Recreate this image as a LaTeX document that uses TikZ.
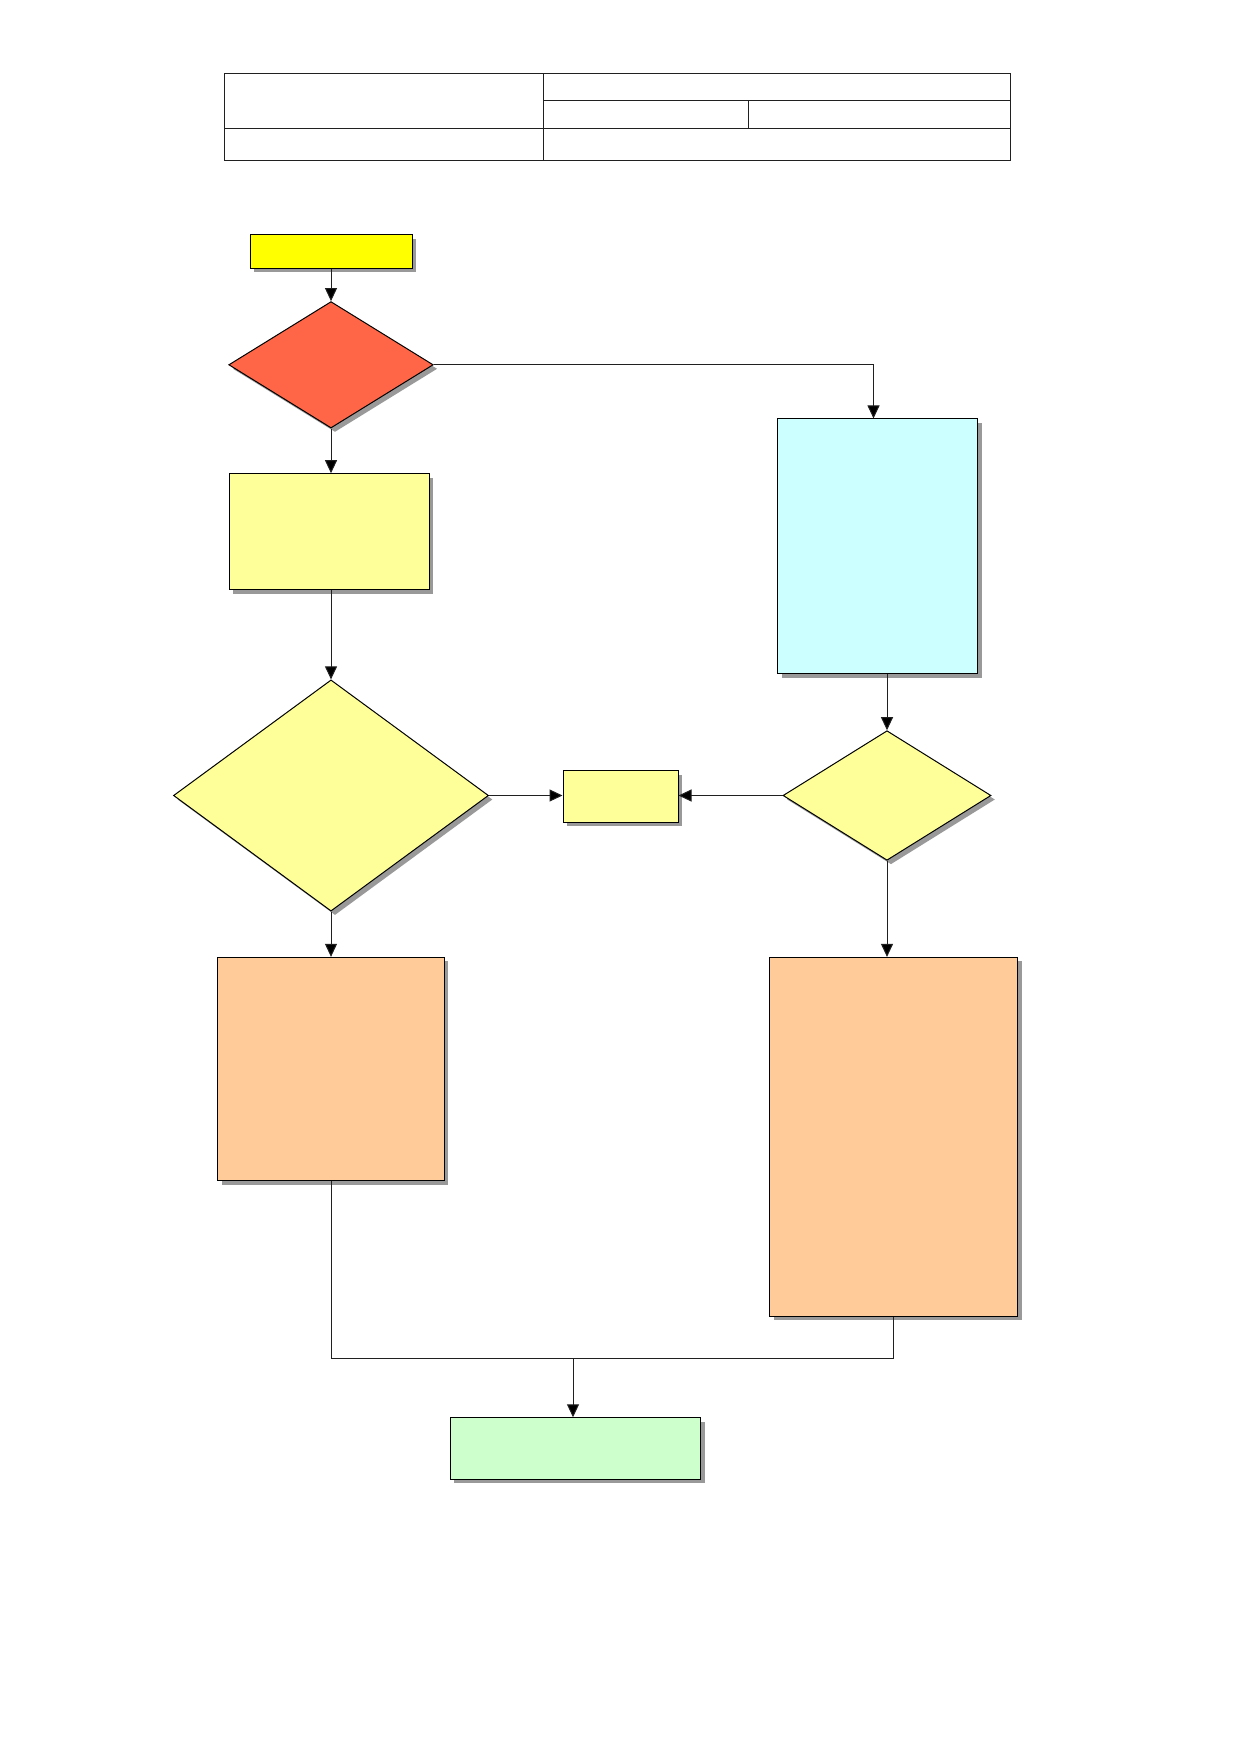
\documentclass[tikz,border=0pt]{standalone}
\usetikzlibrary{shapes.geometric,shadows,arrows.meta}
\definecolor{cstart}{HTML}{FFFF00}
\definecolor{cred}{HTML}{FF6647}
\definecolor{cyel}{HTML}{FFFF99}
\definecolor{ccyan}{HTML}{CCFFFF}
\definecolor{corange}{HTML}{FFCC99}
\definecolor{cgreen}{HTML}{CCFFCC}
\definecolor{cline}{HTML}{202020}
\tikzset{
  shad/.style={drop shadow={shadow xshift=4pt,shadow yshift=-4pt,fill=black!40,opacity=1}},
  boxnode/.style={rectangle,draw=black,line width=1pt,inner sep=0pt,shad},
  dianode/.style={diamond,draw=black,line width=1pt,inner sep=0pt,shad},
  conn/.style={draw=cline,line width=1pt},
  arr/.style={conn,-{Triangle[length=13pt,width=12pt,fill=black]}},
  tabline/.style={draw=cline,line width=0.9pt}
}
\begin{document}
\begin{tikzpicture}[x=1pt,y=-1pt]
\useasboundingbox[fill=white] (0,0) rectangle (1239,1752);
% header table
\draw[tabline] (224.6,73.7) rectangle (1010,160.9);
\draw[tabline] (543,73.7) -- (543,160.9);
\draw[tabline] (543,100.5) -- (1010,100.5);
\draw[tabline] (224.6,128.5) -- (1010,128.5);
\draw[tabline] (748.5,100.5) -- (748.5,128.5);
% nodes
\node[boxnode,fill=cstart,minimum width=162pt,minimum height=33.5pt] (start) at (331,251.4) {};
\node[dianode,fill=cred,minimum width=204.5pt,minimum height=126.4pt] (d1) at (331,364.8) {};
\node[boxnode,fill=cyel,minimum width=200pt,minimum height=116.2pt] (b1) at (329,531.8) {};
\node[boxnode,fill=ccyan,minimum width=200pt,minimum height=254.7pt] (cy) at (877.5,546.3) {};
\node[dianode,fill=cyel,minimum width=315pt,minimum height=231.2pt] (d2) at (331,795.5) {};
\node[boxnode,fill=cyel,minimum width=115pt,minimum height=51.3pt] (sm) at (620.5,796.6) {};
\node[dianode,fill=cyel,minimum width=208pt,minimum height=129.6pt] (d3) at (887,795.5) {};
\node[boxnode,fill=corange,minimum width=226.7pt,minimum height=223.5pt] (lo) at (331,1069.1) {};
\node[boxnode,fill=corange,minimum width=248pt,minimum height=358.6pt] (ro) at (893.7,1136.7) {};
\node[boxnode,fill=cgreen,minimum width=250.3pt,minimum height=61.5pt] (gr) at (575.4,1448.5) {};
\coordinate (j) at (573,1358.5);
% connectors
\draw[arr] (start.south) -- (d1.north);
\draw[arr] (d1.south) -- (d1.south |- b1.north);
\draw[arr] (d1.east) -| ([xshift=-4pt]cy.north);
\draw[arr] (d2.north |- b1.south) -- (d2.north);
\draw[arr] (d3.north |- cy.south) -- (d3.north);
\draw[arr] (d2.east) -- (d2.east -| sm.west);
\draw[arr] (d3.west) -- (d3.west -| sm.east);
\draw[arr] (d2.south) -- (lo.north);
\draw[arr] (d3.south) -- (d3.south |- ro.north);
\draw[conn] (lo.south) -- (lo.south |- j) -- (ro.south |- j) -- (ro.south);
\draw[arr] (j) -- (j |- gr.north);
\end{tikzpicture}
\end{document}
